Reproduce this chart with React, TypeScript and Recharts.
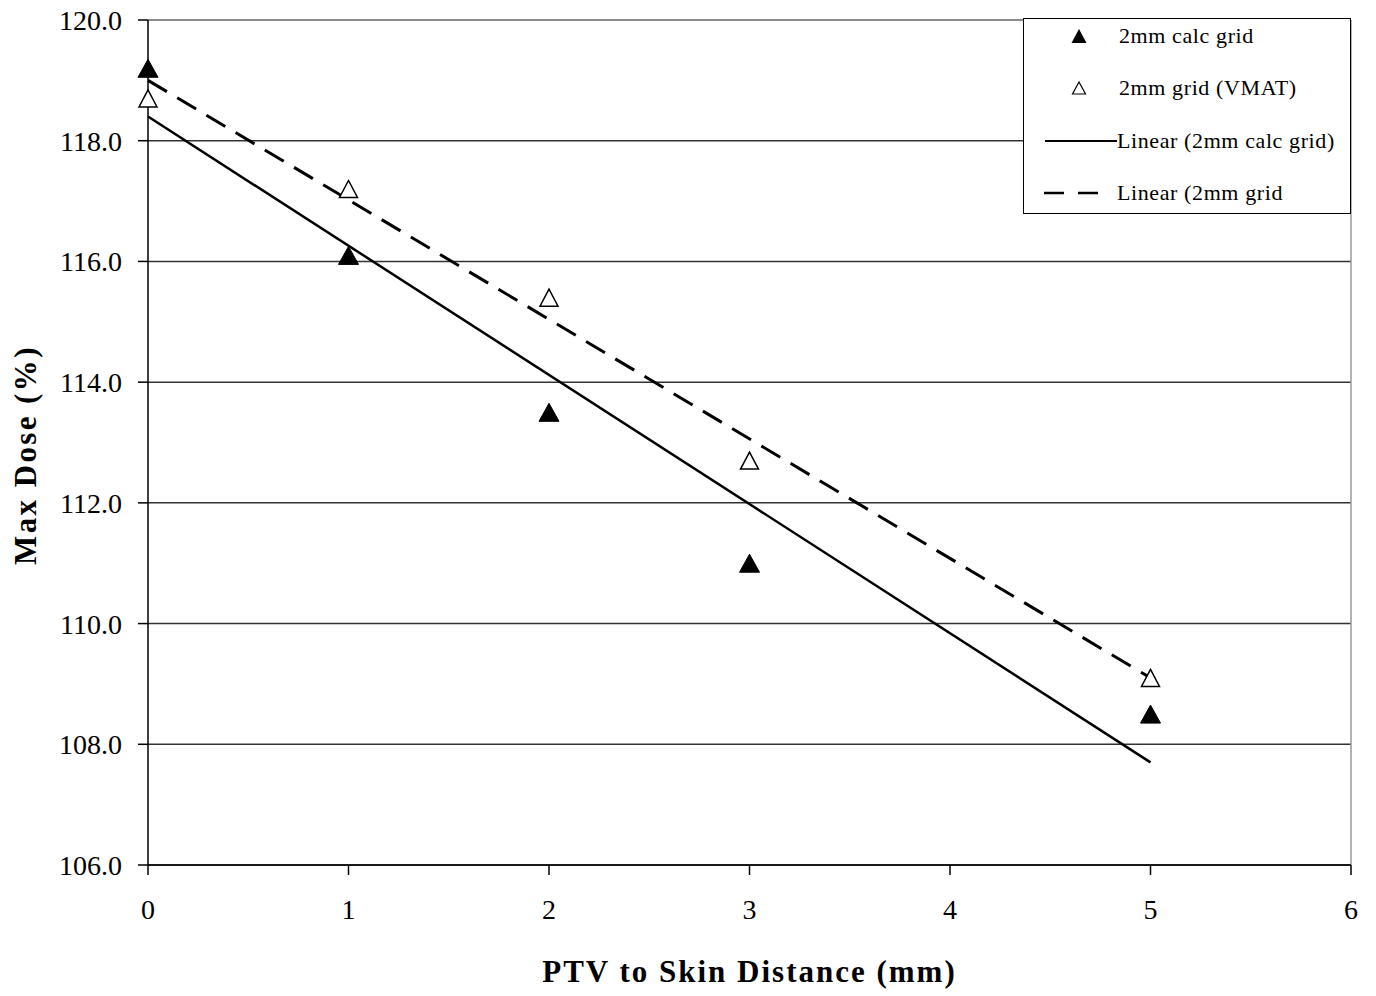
import {
  ComposedChart,
  Scatter,
  Line,
  XAxis,
  YAxis,
  CartesianGrid,
  ReferenceLine,
  Legend,
} from "recharts";

// PTV to skin distance (mm)
const distances = [0, 1, 2, 3, 5];
// max dose (%) per distance
const calcGrid = [119.2, 116.1, 113.5, 111.0, 108.5];
const vmatGrid = [118.7, 117.2, 115.4, 112.7, 109.1];

// linear trend lines, read at their end points
const trendX = [0, 5];
const calcTrend = [118.4, 107.7];
const vmatTrend = [119.0, 109.1];

const yTicks = [106, 108, 110, 112, 114, 116, 118, 120];
const xTicks = [0, 1, 2, 3, 4, 5, 6];

const calcData = distances.map((x, i) => ({ x, y: calcGrid[i] }));
const vmatData = distances.map((x, i) => ({ x, y: vmatGrid[i] }));
const calcTrendData = trendX.map((x, i) => ({ x, y: calcTrend[i] }));
const vmatTrendData = trendX.map((x, i) => ({ x, y: vmatTrend[i] }));

const FONT = '"Liberation Serif", "Times New Roman", serif';

const triangle = (filled: boolean, w: number, h: number) => (props: any) => {
  const { cx, cy } = props;
  if (cx == null || cy == null) return <g />;
  const pts = `${cx},${cy - h / 2} ${cx - w / 2},${cy + h / 2} ${cx + w / 2},${cy + h / 2}`;
  return (
    <polygon
      points={pts}
      fill={filled ? "#000" : "#fff"}
      stroke="#000"
      strokeWidth={filled ? 1 : 1.5}
    />
  );
};

const legendRows = [
  { label: "2mm calc grid", kind: "filled" },
  { label: "2mm grid (VMAT)", kind: "open" },
  { label: "Linear (2mm calc grid)", kind: "solid" },
  { label: "Linear (2mm grid", kind: "dashed" },
];

const renderLegend = () => (
  <div
    style={{
      position: "relative",
      width: 328,
      height: 196,
      border: "1px solid #000",
      background: "#fff",
      boxSizing: "border-box",
      fontFamily: FONT,
      fontSize: 22,
      letterSpacing: 0.6,
    }}
  >
    {legendRows.map((r, i) => (
      <div
        key={r.label}
        style={{
          position: "absolute",
          left: 0,
          top: 17 + i * 52.3 - 14,
          height: 28,
          display: "flex",
          alignItems: "center",
          whiteSpace: "nowrap",
        }}
      >
        <svg width={93} height={28} style={{ flex: "none" }}>
          {r.kind === "filled" && (
            <polygon points="55,7 47.5,21 62.5,21" fill="#000" />
          )}
          {r.kind === "open" && (
            <polygon points="55,8 48.5,20 61.5,20" fill="#fff" stroke="#000" strokeWidth={1.2} />
          )}
          {r.kind === "solid" && (
            <line x1={21} y1={14} x2={93} y2={14} stroke="#000" strokeWidth={2} />
          )}
          {r.kind === "dashed" && (
            <line x1={20} y1={14} x2={80} y2={14} stroke="#000" strokeWidth={2.5} strokeDasharray="20 14" />
          )}
        </svg>
        <span style={{ marginLeft: r.kind === "solid" || r.kind === "dashed" ? 0 : 2 }}>{r.label}</span>
      </div>
    ))}
  </div>
);

const YTitle = () => {
  const cx = 25;
  const cy = 455;
  return (
    <text
      x={cx}
      y={cy}
      transform={`rotate(-90, ${cx}, ${cy})`}
      textAnchor="middle"
      dominantBaseline="central"
      fontFamily={FONT}
      fontWeight="bold"
      fontSize={31}
      letterSpacing={2.4}
      fill="#000"
    >
      Max Dose (%)
    </text>
  );
};

export default function App() {
  return (
    <div style={{ position: "absolute", left: 0, top: 0, background: "#fff" }}>
      <ComposedChart
        width={1376}
        height={996}
        margin={{ top: 20, right: 25, bottom: 0, left: 0 }}
        style={{ fontFamily: FONT }}
      >
        <CartesianGrid vertical={false} stroke="#333" strokeWidth={1.5} />
        <XAxis
          type="number"
          dataKey="x"
          domain={[0, 6]}
          ticks={xTicks}
          interval={0}
          height={131}
          tickSize={10}
          tickMargin={24}
          axisLine={{ stroke: "#000", strokeWidth: 1.5 }}
          tickLine={{ stroke: "#000", strokeWidth: 1.5 }}
          tick={{ fill: "#000", fontSize: 28, fontFamily: FONT }}
          label={{
            value: "PTV to Skin Distance (mm)",
            position: "insideBottom",
            offset: 14,
            fill: "#000",
            fontSize: 31,
            fontWeight: "bold",
            fontFamily: FONT,
            letterSpacing: 2,
          }}
        />
        <YAxis
          type="number"
          dataKey="y"
          domain={[106, 120]}
          ticks={yTicks}
          interval={0}
          width={148}
          tickSize={10}
          tickMargin={16}
          tickFormatter={(v: number) => v.toFixed(1)}
          axisLine={{ stroke: "#000", strokeWidth: 1.5 }}
          tickLine={{ stroke: "#000", strokeWidth: 1.5 }}
          tick={{ fill: "#000", fontSize: 28, fontFamily: FONT }}
          label={<YTitle />}
        />
        <ReferenceLine y={120} stroke="#999" strokeWidth={1.5} />
        <ReferenceLine x={6} stroke="#999" strokeWidth={1.5} />
        <Legend
          verticalAlign="middle"
          align="center"
          layout="horizontal"
          content={renderLegend}
          wrapperStyle={{ left: 1023, top: 18, width: 328, right: "auto", bottom: "auto" }}
        />
        <Scatter
          name="2mm calc grid"
          data={calcData}
          dataKey="y"
          shape={triangle(true, 20, 18)}
          isAnimationActive={false}
        />
        <Scatter
          name="2mm grid (VMAT)"
          data={vmatData}
          dataKey="y"
          shape={triangle(false, 18, 17)}
          isAnimationActive={false}
        />
        <Line
          name="Linear (2mm calc grid)"
          data={calcTrendData}
          dataKey="y"
          stroke="#000"
          strokeWidth={2.5}
          dot={false}
          activeDot={false}
          isAnimationActive={false}
        />
        <Line
          name="Linear (2mm grid"
          data={vmatTrendData}
          dataKey="y"
          stroke="#000"
          strokeWidth={3}
          strokeDasharray="22 12"
          dot={false}
          activeDot={false}
          isAnimationActive={false}
        />
      </ComposedChart>
    </div>
  );
}
